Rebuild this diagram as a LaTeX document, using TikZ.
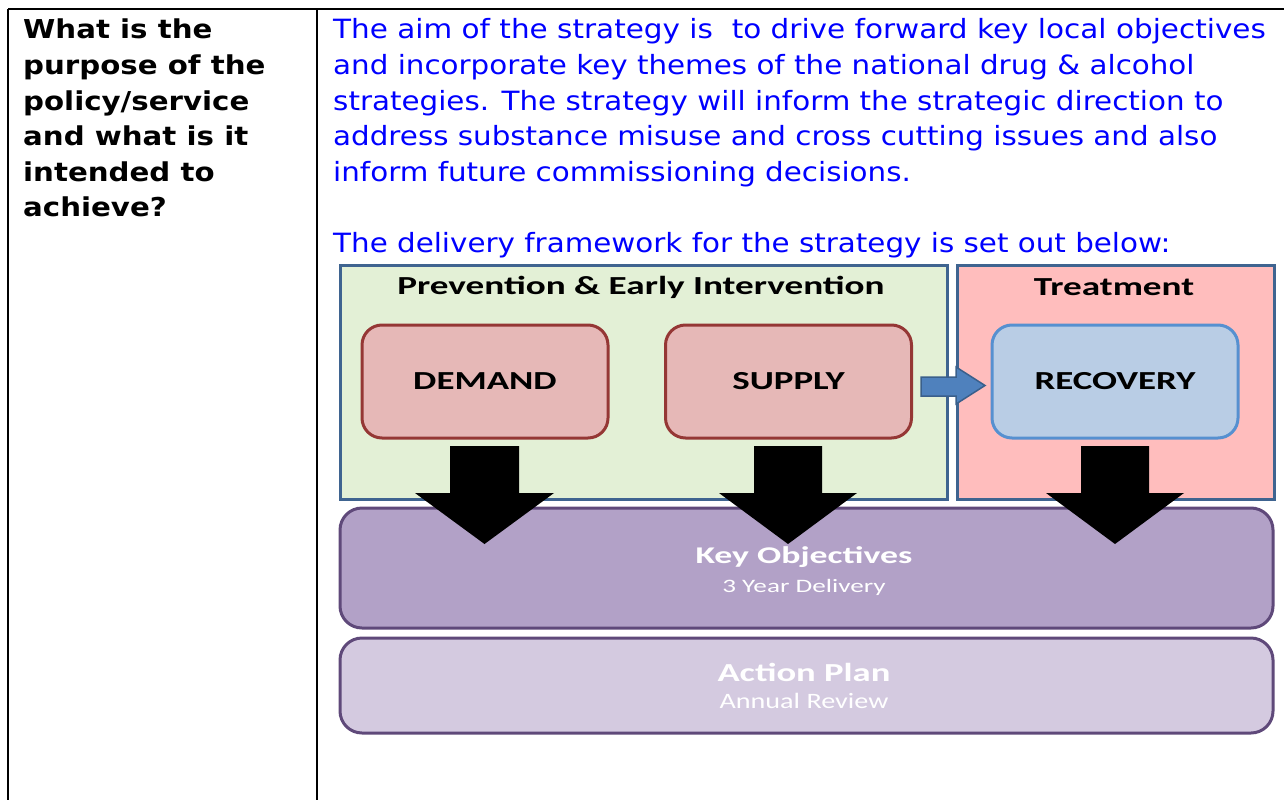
\documentclass[tikz,border=0pt]{standalone}
\usepackage{fontspec}
\usepackage{graphicx}
\setmainfont{DejaVu Sans}
\newfontfamily\calfont{Carlito}
\newcommand{\hstretch}[2]{\scalebox{#1}[1]{#2}}
\definecolor{txtblue}{HTML}{0000FF}
\definecolor{greenfill}{HTML}{E3F0D6}
\definecolor{pinkfill}{HTML}{FFBDBD}
\definecolor{frameblue}{HTML}{3F6490}
\definecolor{redfill}{HTML}{E6B8B7}
\definecolor{reddraw}{HTML}{953735}
\definecolor{bluefill}{HTML}{B9CDE5}
\definecolor{bluedraw}{HTML}{5690D0}
\definecolor{arrfill}{HTML}{4F81BD}
\definecolor{arrdraw}{HTML}{3A5F8B}
\definecolor{purpfill}{HTML}{B2A1C7}
\definecolor{lilacfill}{HTML}{D4CAE0}
\definecolor{purpdraw}{HTML}{5F497A}
\begin{document}
\begin{tikzpicture}[x=1pt,y=-1pt,
  lefttxt/.style={anchor=base west,inner sep=0pt,font=\fontsize{26}{30}\selectfont\bfseries},
  bluetxt/.style={anchor=base west,inner sep=0pt,text=txtblue,font=\fontsize{26.5}{30}\selectfont},
  panel/.style={draw=frameblue,line width=3pt},
  headtxt/.style={inner sep=0pt,font=\calfont\fontsize{26}{30}\selectfont\bfseries},
  stagebox/.style={rounded corners=20pt,line width=3pt,minimum width=246pt,minimum height=113pt,inner sep=0pt,font=\calfont\fontsize{26}{30}\selectfont\bfseries},
  bandbox/.style={rounded corners=22pt,line width=3pt,draw=purpdraw},
  bandtxt/.style={inner sep=0pt,anchor=base,text=white},
  blockarrow/.style={fill=black},
  tableline/.style={line width=1.5pt,black}
]
\useasboundingbox (0,0) rectangle (1284,800);
% table
\draw[tableline] (8,9) -- (1284,9);
\draw[tableline] (8,9) -- (8,800);
\draw[tableline] (317,9) -- (317,800);
% left column
\node[lefttxt] (q1) at (23,39) {\hstretch{1.125}{What is the}};
\node[lefttxt] (q2) at (23,74.5) {\hstretch{1.125}{purpose of the}};
\node[lefttxt] (q3) at (23,110) {\hstretch{1.125}{policy/service}};
\node[lefttxt] (q4) at (23,145.5) {\hstretch{1.125}{and what is it}};
\node[lefttxt] (q5) at (23,181) {\hstretch{1.125}{intended to}};
\node[lefttxt] (q6) at (23,216.5) {\hstretch{1.125}{achieve?}};
% right column
\node[bluetxt] (a1) at (333,39) {\hstretch{1.112}{The aim of the strategy is\ \ to drive forward key local objectives}};
\node[bluetxt] (a2) at (333,74.5) {\hstretch{1.108}{and incorporate key themes of the national drug \& alcohol}};
\node[bluetxt] (a3) at (333,110) {\hstretch{1.108}{strategies. The strategy will inform the strategic direction to}};
\node[bluetxt] (a4) at (333,145.5) {\hstretch{1.108}{address substance misuse and cross cutting issues and also}};
\node[bluetxt] (a5) at (333,181) {\hstretch{1.108}{inform future commissioning decisions.}};
\node[bluetxt] (a6) at (333,252.5) {\hstretch{1.108}{The delivery framework for the strategy is set out below:}};
% panels
\draw[panel,fill=greenfill] (340,265) rectangle (947,499);
\draw[panel,fill=pinkfill] (957,265) rectangle (1274,499);
\node[headtxt] (prev) at (641,287) {\hstretch{1.43}{Prevention \& Early Intervention}};
\node[headtxt] (treat) at (1114,287) {\hstretch{1.43}{Treatment}};
% stage boxes
\node[stagebox,draw=reddraw,fill=redfill] (demand) at (485,381.5) {\hstretch{1.42}{DEMAND}};
\node[stagebox,draw=reddraw,fill=redfill] (supply) at (788.5,381.5) {\hstretch{1.42}{SUPPLY}};
\node[stagebox,draw=bluedraw,fill=bluefill] (recovery) at (1115,381.5) {\hstretch{1.42}{RECOVERY}};
% bands
\draw[bandbox,fill=purpfill] (340,508) rectangle (1273,628);
\draw[bandbox,fill=lilacfill] (340,638) rectangle (1273,733);
\node[bandtxt,font=\calfont\fontsize{24}{28}\selectfont\bfseries] (keyobj) at (804,563) {\hstretch{1.49}{Key Objectives}};
\node[bandtxt,font=\calfont\fontsize{19}{22}\selectfont] (keysub) at (804,592) {\hstretch{1.43}{3 Year Delivery}};
\node[bandtxt,font=\calfont\fontsize{26}{28}\selectfont\bfseries] (action) at (804,681) {\hstretch{1.41}{Action Plan}};
\node[bandtxt,font=\calfont\fontsize{22}{26}\selectfont] (actsub) at (804,708) {\hstretch{1.28}{Annual Review}};
% blue arrow supply -> recovery
\draw[draw=arrdraw,fill=arrfill,line width=1.5pt] (921,377) -- (956,377) -- (956,367) -- (985,385.5) -- (956,404) -- (956,396) -- (921,396) -- cycle;
% black block arrows
\fill[blockarrow] (450,446) -- (519,446) -- (519,493) -- (554,493) -- (484.5,544) -- (415,493) -- (450,493) -- cycle;
\fill[blockarrow] (754,446) -- (822,446) -- (822,493) -- (857,493) -- (788,544) -- (719,493) -- (754,493) -- cycle;
\fill[blockarrow] (1081,446) -- (1149,446) -- (1149,493) -- (1184,493) -- (1115,544) -- (1046,493) -- (1081,493) -- cycle;
\end{tikzpicture}
\end{document}
